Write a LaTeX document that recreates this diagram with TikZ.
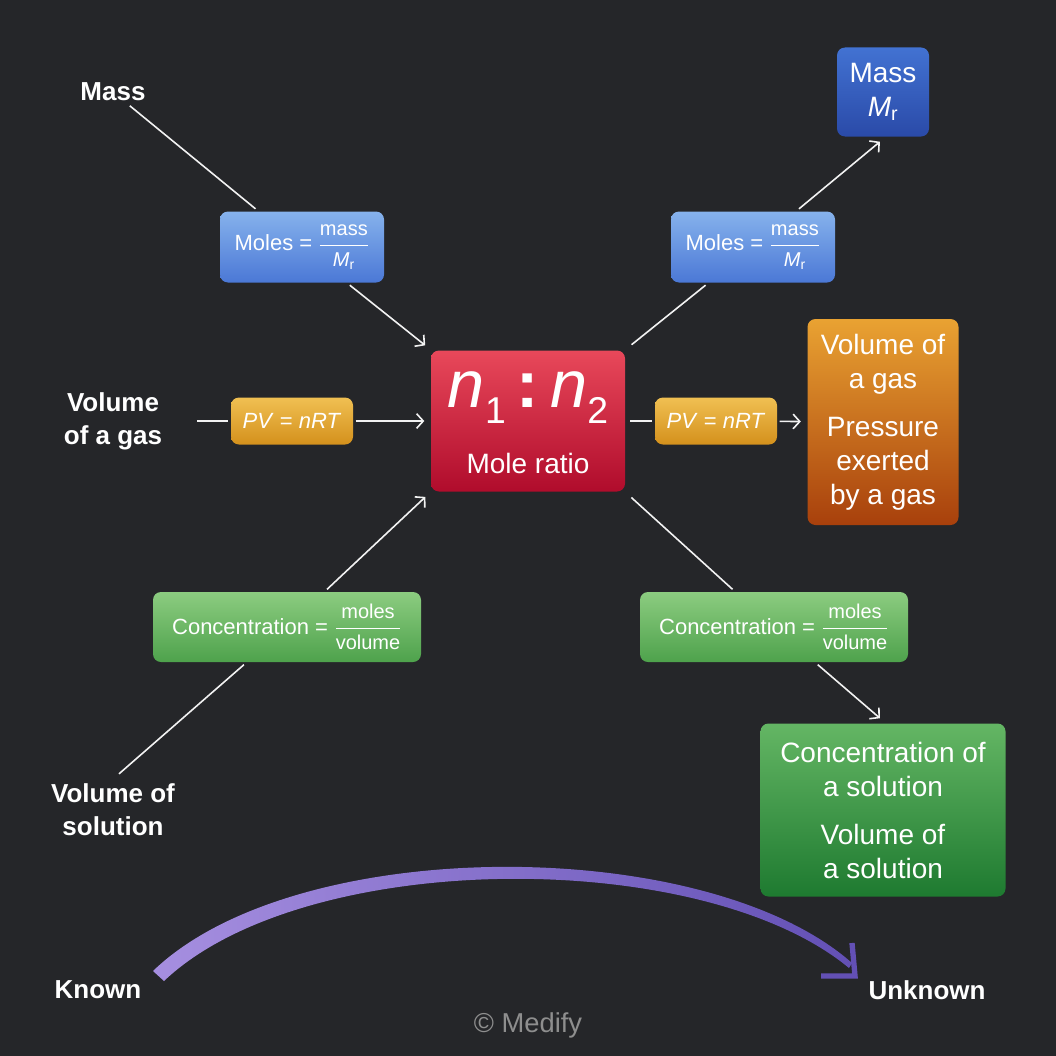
\documentclass[tikz,border=0pt]{standalone}
\usepackage{amsmath}
\usepackage{fontspec}
\setmainfont{Liberation Sans}
\usetikzlibrary{arrows.meta}
\definecolor{BackClr}{HTML}{252629}
\definecolor{LineClr}{HTML}{F2F2F2}
\definecolor{BlueTopClr}{HTML}{86B2EC}
\definecolor{BlueBotClr}{HTML}{4B78D6}
\definecolor{DeepTopClr}{HTML}{4272D2}
\definecolor{DeepBotClr}{HTML}{2A4AA8}
\definecolor{GoldTopClr}{HTML}{F0C052}
\definecolor{GoldBotClr}{HTML}{D4901C}
\definecolor{RustTopClr}{HTML}{E9A232}
\definecolor{RustBotClr}{HTML}{A8400C}
\definecolor{LeafTopClr}{HTML}{8CCC80}
\definecolor{LeafBotClr}{HTML}{4EA24C}
\definecolor{PineTopClr}{HTML}{64B664}
\definecolor{PineBotClr}{HTML}{1E7A30}
\definecolor{RedTopClr}{HTML}{E8485A}
\definecolor{RedBotClr}{HTML}{B00C2C}
\definecolor{LilacClr}{HTML}{A68FE0}
\definecolor{IndigoClr}{HTML}{6350B5}
\definecolor{NoteClr}{HTML}{8E8E8E}
\newcommand{\Mr}{\textit{M}\textsubscript{r}}
\newcommand{\molfrac}[2]{$\genfrac{}{}{0.8pt}{0}{\text{\fontsize{15}{16}\selectfont #1}}{\text{\fontsize{15}{16}\selectfont #2}}$}
\newcommand{\subnum}[1]{\raisebox{-12pt}{\fontsize{28}{28}\selectfont #1}}

\begin{document}
\begin{tikzpicture}[x=0.75pt,y=-0.75pt,
  lbl/.style={text=white,font=\fontsize{19.5}{25}\selectfont\bfseries,align=center},
  box/.style={rounded corners=6pt,text=white,align=center,inner sep=0pt,outer sep=2pt},
  small/.style={box,font=\fontsize{16.5}{20}\selectfont},
  big/.style={box,font=\fontsize{21}{25.5}\selectfont},
  conn/.style={draw=LineClr,line width=1.2pt},
  arr/.style={conn,-{Straight Barb[length=5pt,width=11pt]}}]

\fill[BackClr] (0,0) rectangle (1056,1056);
\useasboundingbox (0,0) rectangle (1056,1056);

\node[box,top color=RedTopClr,bottom color=RedBotClr,minimum width=145.5pt,minimum height=105.75pt] (ratio) at (528,421) {};
\node[text=white,font=\fontsize{50}{50}\selectfont,inner sep=0pt] (nn) at (528,398) {\textit{n}\subnum{1}\,\textbf{:}\,\textit{n}\subnum{2}};
\node[text=white,font=\fontsize{21}{25}\selectfont,inner sep=0pt] (mrat) at (528,463) {Mole ratio};

\node[lbl] (mass) at (113,92) {Mass};
\node[small,top color=BlueTopClr,bottom color=BlueBotClr,minimum width=123pt,minimum height=53.25pt] (mleft) at (302,247) {Moles = \molfrac{mass}{\Mr}};
\node[small,top color=BlueTopClr,bottom color=BlueBotClr,minimum width=123pt,minimum height=53.25pt] (mright) at (753,247) {Moles = \molfrac{mass}{\Mr}};
\node[big,top color=DeepTopClr,bottom color=DeepBotClr,minimum width=69pt,minimum height=66.75pt] (mrbox) at (883,92) {Mass\\\Mr};

\node[lbl] (vgas) at (113,421) {Volume\\of a gas};
\node[small,top color=GoldTopClr,bottom color=GoldBotClr,minimum width=91.5pt,minimum height=35.25pt] (pvl) at (292,421) {\textit{PV} = \textit{nRT}};
\node[small,top color=GoldTopClr,bottom color=GoldBotClr,minimum width=91.5pt,minimum height=35.25pt] (pvr) at (716,421) {\textit{PV} = \textit{nRT}};
\node[big,top color=RustTopClr,bottom color=RustBotClr,minimum width=113.25pt,minimum height=154.5pt] (gas) at (883,422) {Volume of\\a gas\\[10.5pt]Pressure\\exerted\\by a gas};

\node[lbl] (vsol) at (113,810) {Volume of\\solution};
\node[small,top color=LeafTopClr,bottom color=LeafBotClr,minimum width=201pt,minimum height=52.5pt] (cleft) at (287,627) {Concentration = \molfrac{moles}{volume}};
\node[small,top color=LeafTopClr,bottom color=LeafBotClr,minimum width=201pt,minimum height=52.5pt] (cright) at (774,627) {Concentration = \molfrac{moles}{volume}};
\node[big,top color=PineTopClr,bottom color=PineBotClr,minimum width=183.75pt,minimum height=129.75pt] (sol) at (883,810) {Concentration of\\a solution\\[10.5pt]Volume of\\a solution};

\draw[conn] (mass) -- (mleft);
\draw[arr,shorten >=3pt] (mleft) -- (ratio.north west);
\draw[conn,shorten <=3.75pt] (ratio.north east) -- (mright);
\draw[arr,shorten >=3pt] (mright) -- (mrbox.south);
\draw[conn,shorten <=22.5pt] (vgas) -- (pvl);
\draw[arr,shorten >=3pt] (pvl) -- (ratio);
\draw[conn,shorten <=2pt] (ratio) -- (pvr);
\draw[arr,shorten >=3pt] (pvr) -- (gas);
\draw[conn,shorten <=6pt] (vsol.north) -- (cleft);
\draw[arr,shorten >=3pt] (cleft) -- (ratio.south west);
\draw[conn,shorten <=3.75pt] (ratio.south east) -- (cright);
\draw[arr,shorten >=3pt] (cright) -- (sol.north);

\node[lbl] (known) at (98,990) {Known};
\node[lbl] (unknown) at (927,990) {Unknown};
\shade[left color=LilacClr,right color=IndigoClr] (153,971) .. controls (296,833) and (706,834) .. (852,963) -- (849,968) .. controls (702,846) and (304,848) .. (164,981) -- cycle;
\draw[IndigoClr,line width=4pt,miter limit=4] (821,976) -- (855,976) -- (852,943);

\node[text=NoteClr,font=\fontsize{20.5}{24}\selectfont] (note) at (528,1025) {\textcopyright\ Medify};

\end{tikzpicture}
\end{document}
